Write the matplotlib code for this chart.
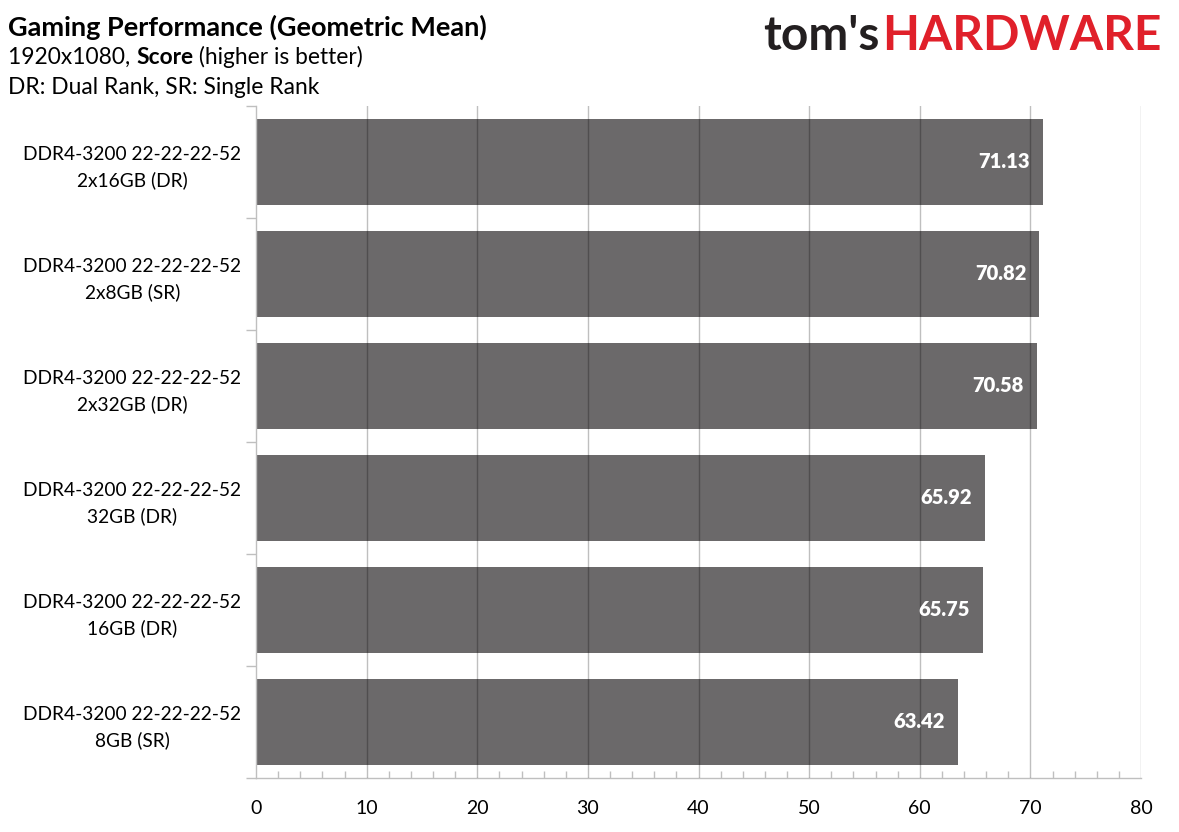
import matplotlib.pyplot as plt
import numpy as np

labels = ["DDR4-3200 22-22-22-52\n2x16GB (DR)",
          "DDR4-3200 22-22-22-52\n2x8GB (SR)",
          "DDR4-3200 22-22-22-52\n2x32GB (DR)",
          "DDR4-3200 22-22-22-52\n32GB (DR)",
          "DDR4-3200 22-22-22-52\n16GB (DR)",
          "DDR4-3200 22-22-22-52\n8GB (SR)"]
scores = [71.13, 70.82, 70.58, 65.92, 65.75, 63.42]
x_ticks = [0, 10, 20, 30, 40, 50, 60, 70, 80]

plt.rcParams["font.family"] = ["Lato", "DejaVu Sans"]

fig = plt.figure(figsize=(11.79, 8.32), dpi=100)
ax = fig.add_axes([256 / 1179, 54 / 832, 885 / 1179, 672 / 832])

y = np.arange(len(scores))
ax.barh(y, scores, height=0.77, color="#6b696a", zorder=2)
ax.set_ylim(len(scores) - 0.5, -0.5)
ax.set_xlim(0, 80)

for yi, v in zip(y, scores):
    ax.text(v - 1.2, yi, f"{v:.2f}", ha="right", va="center",
            color="white", fontsize=14.5, fontweight="heavy", zorder=4)

# gridlines drawn over the bars
for xv in x_ticks[1:]:
    ax.axvline(xv, color="black", alpha=0.25, lw=1, zorder=3)

ax.set_yticks(y)
ax.set_yticklabels(labels, fontsize=13.8, ha="center", linespacing=1.55)
ax.tick_params(axis="y", length=0, pad=89)
ax.set_yticks(np.arange(-0.5, len(scores)), minor=True)
ax.tick_params(axis="y", which="minor", length=7, color="#bfbfbf", width=1)

ax.set_xticks(x_ticks)
ax.set_xticklabels([str(t) for t in x_ticks], fontsize=14)
ax.tick_params(axis="x", length=0, pad=16)
ax.set_xticks(np.arange(0, 81, 2), minor=True)
ax.tick_params(axis="x", which="minor", direction="in", length=5,
               color="#bfbfbf", width=1)

for s in ["top", "right"]:
    ax.spines[s].set_visible(False)
for s in ["left", "bottom"]:
    ax.spines[s].set_color("#bfbfbf")
    ax.spines[s].set_linewidth(1)

fig.canvas.draw()
rend = fig.canvas.get_renderer()

fig.text(8 / 1179, 1 - 27 / 832, "Gaming Performance (Geometric Mean)",
         fontsize=19.5, fontweight="bold", va="center", ha="left")
t1 = fig.text(8 / 1179, 1 - 57 / 832, "1920x1080, ", fontsize=16.4,
              va="center", ha="left")
bb = t1.get_window_extent(renderer=rend)
t2 = fig.text(bb.x1 / 1179, 1 - 57 / 832, "Score", fontsize=16.4,
              fontweight="bold", va="center", ha="left")
bb2 = t2.get_window_extent(renderer=rend)
fig.text(bb2.x1 / 1179, 1 - 57 / 832, " (higher is better)", fontsize=16.4,
         va="center", ha="left")
fig.text(8 / 1179, 1 - 88 / 832, "DR: Dual Rank, SR: Single Rank",
         fontsize=16.4, va="center", ha="left")

# logo
lg = fig.text(763 / 1179, 1 - 36 / 832, "tom's", fontsize=34.5,
              fontweight="bold", color="#231f20", va="center", ha="left")
lb = lg.get_window_extent(renderer=rend)
fig.text(lb.x1 / 1179 + 0.002, 1 - 36 / 832, "HARDWARE", fontsize=34.5,
         fontweight="bold", color="#e0202a", va="center", ha="left")

plt.savefig("out.png", dpi=100)
